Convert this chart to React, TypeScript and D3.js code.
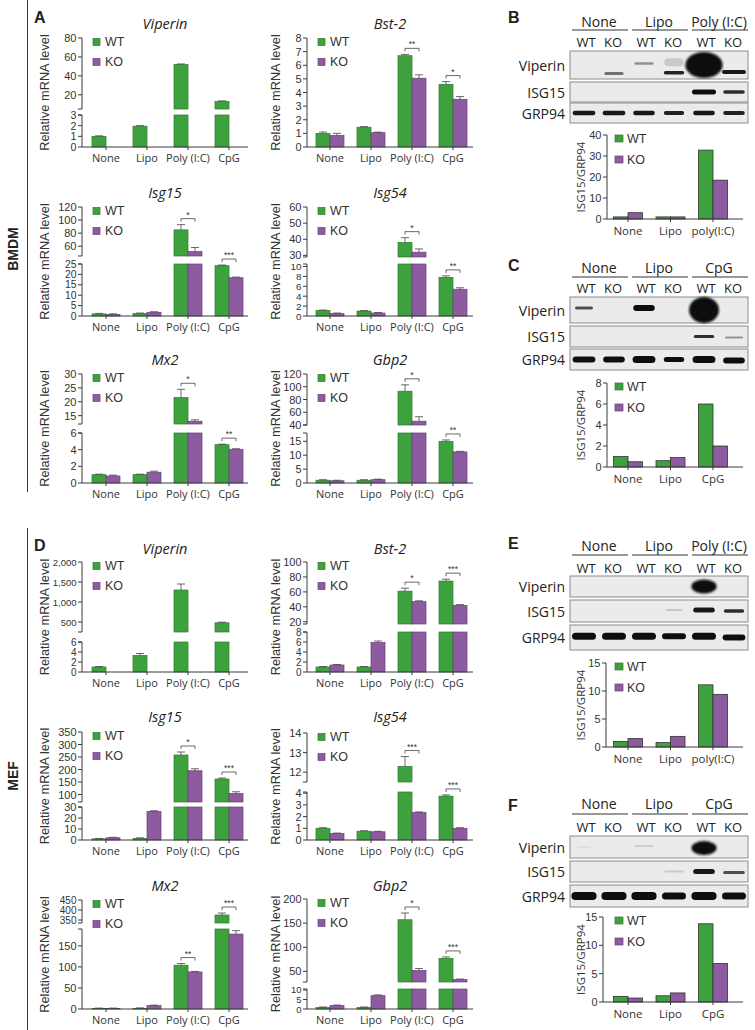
import React from "react";
import * as d3 from "d3";

// ---------------- shared categories ----------------
const categories = ["None", "Lipo", "Poly (I:C)", "CpG"];
const seriesNames = ["WT", "KO"];

// ---------------- Panel A (BMDM) ----------------
const aViperinWT = [1.0, 1.95, 52, 13];
const aViperinWTErr = [0.04, 0.05, 0.6, 0.6];
const aViperinKO = [0, 0, 0, 0];
const aViperinKOErr = [0, 0, 0, 0];
const aViperinSig = ["", "", "", ""];
const aViperinTicksLow = [0, 1, 2, 3];
const aViperinTicksHigh = [20, 40, 60, 80];

const aBst2WT = [1.0, 1.45, 6.7, 4.6];
const aBst2WTErr = [0.1, 0.05, 0.1, 0.2];
const aBst2KO = [0.85, 1.05, 5.05, 3.5];
const aBst2KOErr = [0.15, 0.04, 0.25, 0.2];
const aBst2Sig = ["", "", "**", "*"];
const aBst2Ticks = [0, 1, 2, 3, 4, 5, 6, 7, 8];

const aIsg15WT = [1.0, 1.2, 85, 24.2];
const aIsg15WTErr = [0.1, 0.1, 8, 0.3];
const aIsg15KO = [0.8, 1.8, 52, 18.4];
const aIsg15KOErr = [0.1, 0.1, 6, 0.3];
const aIsg15Sig = ["", "", "*", "***"];
const aIsg15TicksLow = [0, 5, 10, 15, 20, 25];
const aIsg15TicksHigh = [60, 80, 100, 120];

const aIsg54WT = [1.1, 1.0, 38, 7.8];
const aIsg54WTErr = [0.1, 0.1, 3, 0.3];
const aIsg54KO = [0.5, 0.6, 32, 5.4];
const aIsg54KOErr = [0.05, 0.05, 2, 0.3];
const aIsg54Sig = ["", "", "*", "**"];
const aIsg54TicksLow = [0, 2, 4, 6, 8, 10];
const aIsg54TicksHigh = [30, 40, 50, 60];

const aMx2WT = [1.0, 1.0, 21.5, 4.6];
const aMx2WTErr = [0.05, 0.05, 3, 0.05];
const aMx2KO = [0.85, 1.3, 13, 4.05];
const aMx2KOErr = [0.1, 0.12, 0.5, 0.05];
const aMx2Sig = ["", "", "*", "**"];
const aMx2TicksLow = [0, 2, 4, 6];
const aMx2TicksHigh = [15, 20, 25, 30];

const aGbp2WT = [1.0, 1.0, 93, 15];
const aGbp2WTErr = [0.1, 0.1, 10, 0.5];
const aGbp2KO = [0.8, 1.2, 46, 11.2];
const aGbp2KOErr = [0.1, 0.1, 7, 0.2];
const aGbp2Sig = ["", "", "*", "**"];
const aGbp2TicksLow = [0, 5, 10, 15];
const aGbp2TicksHigh = [40, 60, 80, 100, 120];

// ---------------- Panel D (MEF) ----------------
const dViperinWT = [1.0, 3.3, 1300, 480];
const dViperinWTErr = [0.05, 0.4, 150, 15];
const dViperinKO = [0, 0, 0, 0];
const dViperinKOErr = [0, 0, 0, 0];
const dViperinSig = ["", "", "", ""];
const dViperinTicksLow = [0, 2, 4, 6];
const dViperinTicksHigh = [500, 1000, 1500, 2000];

const dBst2WT = [1.0, 1.0, 61, 74.5];
const dBst2WTErr = [0.05, 0.1, 4, 2.5];
const dBst2KO = [1.4, 5.9, 47, 42];
const dBst2KOErr = [0.05, 0.3, 1, 1];
const dBst2Sig = ["", "", "*", "***"];
const dBst2TicksLow = [0, 2, 4, 6, 8];
const dBst2TicksHigh = [20, 40, 60, 80, 100];

const dIsg15WT = [1.0, 1.5, 258, 162];
const dIsg15WTErr = [0.1, 0.2, 12, 4];
const dIsg15KO = [2.0, 26, 195, 104];
const dIsg15KOErr = [0.1, 0.6, 8, 7];
const dIsg15Sig = ["", "", "*", "***"];
const dIsg15TicksLow = [0, 10, 20, 30];
const dIsg15TicksHigh = [100, 150, 200, 250, 300, 350];

const dIsg54WT = [1.0, 0.75, 12.3, 3.75];
const dIsg54WTErr = [0.05, 0.03, 0.5, 0.1];
const dIsg54KO = [0.55, 0.7, 2.35, 1.0];
const dIsg54KOErr = [0.03, 0.03, 0.05, 0.05];
const dIsg54Sig = ["", "", "***", "***"];
const dIsg54TicksLow = [0, 1, 2, 3, 4];
const dIsg54TicksHigh = [12, 13, 14];

const dMx2WT = [1.0, 1.5, 104, 375];
const dMx2WTErr = [0.1, 0.1, 4, 10];
const dMx2KO = [1.0, 8, 88, 178];
const dMx2KOErr = [0.1, 0.5, 1, 8];
const dMx2Sig = ["", "", "**", "***"];
const dMx2TicksLow = [0, 50, 100, 150];
const dMx2TicksHigh = [350, 400, 450];

const dGbp2WT = [0.8, 0.8, 157, 77];
const dGbp2WTErr = [0.05, 0.05, 14, 3];
const dGbp2KO = [1.8, 7.0, 52, 33];
const dGbp2KOErr = [0.1, 0.4, 4, 1];
const dGbp2Sig = ["", "", "*", "***"];
const dGbp2TicksLow = [0, 5, 10];
const dGbp2TicksHigh = [50, 100, 150, 200];

// ---------------- Western blot panels ----------------
const blotRowNames = ["Viperin", "ISG15", "GRP94"];
const laneLabels = ["WT", "KO", "WT", "KO", "WT", "KO"];
const polyGroups = ["None", "Lipo", "Poly (I:C)"];
const cpgGroups = ["None", "Lipo", "CpG"];
const polyCats = ["None", "Lipo", "poly(I:C)"];
const cpgCats = ["None", "Lipo", "CpG"];

const bWT = [1.0, 1.0, 32.8];
const bKO = [3.0, 1.0, 18.5];
const bTicks = [0, 10, 20, 30, 40];
const cWT = [1.0, 0.6, 6.0];
const cKO = [0.5, 0.9, 2.0];
const cTicks = [0, 2, 4, 6, 8];
const eWT = [1.0, 0.8, 11.1];
const eKO = [1.5, 1.9, 9.4];
const eTicks = [0, 5, 10, 15];
const fWT = [1.0, 1.1, 13.8];
const fKO = [0.7, 1.6, 6.8];
const fTicks = [0, 5, 10, 15];

// band: [row, lane, intensity(>1 = saturated blob), widthFactor, heightPx, yFraction]
const bBands = [
  [0, 1, 0.55, 0.8, 3, 0.8], [0, 2, 0.4, 0.8, 2.5, 0.45], [0, 3, 0.15, 0.8, 8, 0.4],
  [0, 3, 0.9, 0.85, 3.5, 0.78], [0, 4, 2, 1.55, 26, 0.5], [0, 5, 0.95, 1.0, 4, 0.75],
  [1, 4, 1, 1.0, 5, 0.5], [1, 5, 0.85, 0.9, 3.5, 0.5],
  [2, 0, 0.95, 0.95, 4.5, 0.5], [2, 1, 0.95, 0.95, 4.5, 0.5], [2, 2, 0.95, 0.9, 4.5, 0.5],
  [2, 3, 0.9, 0.85, 4, 0.5], [2, 4, 0.95, 0.9, 4.5, 0.5], [2, 5, 0.9, 0.9, 4, 0.5],
];
const cBands = [
  [0, 0, 0.7, 0.75, 3, 0.42], [0, 2, 1, 0.9, 6, 0.42], [0, 4, 2, 1.25, 26, 0.5],
  [1, 4, 0.85, 0.85, 3, 0.5], [1, 5, 0.4, 0.75, 2, 0.55],
  [2, 0, 1, 0.95, 6, 0.5], [2, 1, 1, 0.9, 6, 0.5], [2, 2, 1, 0.95, 7, 0.5],
  [2, 3, 1, 0.85, 5, 0.5], [2, 4, 1, 0.95, 7, 0.5], [2, 5, 1, 0.9, 6, 0.55],
];
const eBands = [
  [0, 4, 2, 1.05, 14, 0.5],
  [1, 3, 0.15, 0.7, 2, 0.45], [1, 4, 0.95, 0.9, 5, 0.45], [1, 5, 0.85, 0.85, 3.5, 0.5],
  [2, 0, 1, 1.0, 7, 0.45], [2, 1, 1, 1.0, 7, 0.45], [2, 2, 1, 1.0, 7, 0.45],
  [2, 3, 1, 1.0, 6, 0.45], [2, 4, 1, 1.0, 7, 0.45], [2, 5, 1, 0.95, 6, 0.5],
];
const fBands = [
  [0, 0, 0.06, 0.6, 2, 0.5], [0, 2, 0.12, 0.8, 2, 0.45], [0, 4, 2, 1.05, 14, 0.55],
  [1, 3, 0.15, 0.8, 2, 0.5], [1, 4, 0.95, 0.9, 5, 0.5], [1, 5, 0.7, 0.9, 3, 0.55],
  [2, 0, 1, 1.05, 8, 0.5], [2, 1, 1, 1.05, 8, 0.5], [2, 2, 1, 1.05, 8, 0.5],
  [2, 3, 1, 1.0, 7, 0.5], [2, 4, 1, 1.05, 8, 0.5], [2, 5, 1, 1.0, 7, 0.5],
];

// ---------------- styling ----------------
const WT_FILL = "#3da23d";
const WT_STROKE = "#2c7a2c";
const KO_FILL = "#8d5b9f";
const KO_STROKE = "#68407a";
const AX = "#3a3a3a";
const SANS = "'Liberation Sans', Arial, sans-serif";
const OPEN = "'Open Sans', 'Noto Sans', sans-serif";

type Seg = { d: [number, number]; r: [number, number]; ticks: number[] };
type Gene = {
  title: string; col: number; B: number; segs: Seg[];
  wt: number[]; wtErr: number[]; ko: number[]; koErr: number[]; sig: string[];
};

const COLS = [
  { x0: 82, xEnd: 248, c0: 106, c3: 229, labelX: 44 },
  { x0: 307, xEnd: 473, c0: 330, c3: 453, labelX: 275 },
];

const genes: Gene[] = [
  { title: "Viperin", col: 0, B: 147, wt: aViperinWT, wtErr: aViperinWTErr, ko: aViperinKO, koErr: aViperinKOErr, sig: aViperinSig,
    segs: [{ d: [0, 3], r: [147, 115], ticks: aViperinTicksLow }, { d: [5, 80], r: [109, 38], ticks: aViperinTicksHigh }] },
  { title: "Bst-2", col: 1, B: 147, wt: aBst2WT, wtErr: aBst2WTErr, ko: aBst2KO, koErr: aBst2KOErr, sig: aBst2Sig,
    segs: [{ d: [0, 8], r: [147, 38], ticks: aBst2Ticks }] },
  { title: "Isg15", col: 0, B: 316, wt: aIsg15WT, wtErr: aIsg15WTErr, ko: aIsg15KO, koErr: aIsg15KOErr, sig: aIsg15Sig,
    segs: [{ d: [0, 25], r: [316, 264], ticks: aIsg15TicksLow }, { d: [45, 120], r: [256, 207], ticks: aIsg15TicksHigh }] },
  { title: "Isg54", col: 1, B: 316, wt: aIsg54WT, wtErr: aIsg54WTErr, ko: aIsg54KO, koErr: aIsg54KOErr, sig: aIsg54Sig,
    segs: [{ d: [0, 10.5], r: [316, 264], ticks: aIsg54TicksLow }, { d: [29, 60], r: [257, 207], ticks: aIsg54TicksHigh }] },
  { title: "Mx2", col: 0, B: 483, wt: aMx2WT, wtErr: aMx2WTErr, ko: aMx2KO, koErr: aMx2KOErr, sig: aMx2Sig,
    segs: [{ d: [0, 6], r: [483, 433], ticks: aMx2TicksLow }, { d: [12, 30], r: [424, 374], ticks: aMx2TicksHigh }] },
  { title: "Gbp2", col: 1, B: 483, wt: aGbp2WT, wtErr: aGbp2WTErr, ko: aGbp2KO, koErr: aGbp2KOErr, sig: aGbp2Sig,
    segs: [{ d: [0, 18], r: [483, 433], ticks: aGbp2TicksLow }, { d: [40, 120], r: [425, 374], ticks: aGbp2TicksHigh }] },

  { title: "Viperin", col: 0, B: 672, wt: dViperinWT, wtErr: dViperinWTErr, ko: dViperinKO, koErr: dViperinKOErr, sig: dViperinSig,
    segs: [{ d: [0, 6], r: [672, 642], ticks: dViperinTicksLow }, { d: [250, 2000], r: [632, 562], ticks: dViperinTicksHigh }] },
  { title: "Bst-2", col: 1, B: 672, wt: dBst2WT, wtErr: dBst2WTErr, ko: dBst2KO, koErr: dBst2KOErr, sig: dBst2Sig,
    segs: [{ d: [0, 8], r: [672, 632], ticks: dBst2TicksLow }, { d: [17, 100], r: [624, 562], ticks: dBst2TicksHigh }] },
  { title: "Isg15", col: 0, B: 840, wt: dIsg15WT, wtErr: dIsg15WTErr, ko: dIsg15KO, koErr: dIsg15KOErr, sig: dIsg15Sig,
    segs: [{ d: [0, 30], r: [840, 807], ticks: dIsg15TicksLow }, { d: [70, 350], r: [802, 732], ticks: dIsg15TicksHigh }] },
  { title: "Isg54", col: 1, B: 840, wt: dIsg54WT, wtErr: dIsg54WTErr, ko: dIsg54KO, koErr: dIsg54KOErr, sig: dIsg54Sig,
    segs: [{ d: [0, 4.1], r: [840, 792], ticks: dIsg54TicksLow }, { d: [11.5, 14], r: [782, 733], ticks: dIsg54TicksHigh }] },
  { title: "Mx2", col: 0, B: 1009, wt: dMx2WT, wtErr: dMx2WTErr, ko: dMx2KO, koErr: dMx2KOErr, sig: dMx2Sig,
    segs: [{ d: [0, 190], r: [1009, 929], ticks: dMx2TicksLow }, { d: [335, 450], r: [923, 900], ticks: dMx2TicksHigh }] },
  { title: "Gbp2", col: 1, B: 1009, wt: dGbp2WT, wtErr: dGbp2WTErr, ko: dGbp2KO, koErr: dGbp2KOErr, sig: dGbp2Sig,
    segs: [{ d: [0, 10.5], r: [1009, 989], ticks: dGbp2TicksLow }, { d: [28, 200], r: [982, 899], ticks: dGbp2TicksHigh }] },
];

function GeneChart({ g }: { g: Gene }) {
  const col = COLS[g.col];
  const x = d3.scalePoint<string>().domain(categories).range([col.c0, col.c3]);
  const bw = 14;
  const scales = g.segs.map((s) => d3.scaleLinear().domain(s.d).range(s.r));
  const top = g.segs[g.segs.length - 1].r[1];
  const fmt = d3.format(",");
  const yOf = (v: number) => {
    for (let i = 0; i < g.segs.length; i++) {
      const s = g.segs[i];
      const lo = i === 0 ? 0 : s.d[0];
      if (v >= lo && v <= s.d[1]) return scales[i](v);
    }
    for (let i = 1; i < g.segs.length; i++) if (v < g.segs[i].d[0]) return scales[i - 1](g.segs[i - 1].d[1]);
    return scales[g.segs.length - 1](v);
  };
  const series = [
    { vals: g.wt, err: g.wtErr, fill: WT_FILL, stroke: WT_STROKE, off: -bw },
    { vals: g.ko, err: g.koErr, fill: KO_FILL, stroke: KO_STROKE, off: 0 },
  ];
  const els: React.ReactNode[] = [];
  series.forEach((ser, si) =>
    ser.vals.forEach((v, i) => {
      const cx = (x(categories[i]) as number) + ser.off;
      g.segs.forEach((s, k) => {
        const lo = k === 0 ? 0 : s.d[0];
        if (v <= lo) return;
        const hi = Math.min(v, s.d[1]);
        const y1 = scales[k](hi);
        const y0 = scales[k](lo);
        els.push(
          <rect key={`b${si}-${i}-${k}`} x={cx} y={y1} width={bw} height={y0 - y1}
            fill={ser.fill} stroke={ser.stroke} strokeWidth={0.7} />
        );
      });
    })
  );
  const errTops: number[][] = [[], []];
  series.forEach((ser, si) =>
    ser.vals.forEach((v, i) => {
      const c = (x(categories[i]) as number) + ser.off + bw / 2;
      if (v <= 0) { errTops[si][i] = g.B; return; }
      const yv = yOf(v);
      const ye = Math.min(yOf(v + ser.err[i]), yv - 0.5);
      errTops[si][i] = ye;
      els.push(
        <g key={`e${si}-${i}`} stroke="#444" strokeWidth={0.8}>
          <line x1={c} x2={c} y1={yv} y2={ye} />
          <line x1={c - 4} x2={c + 4} y1={ye} y2={ye} />
        </g>
      );
    })
  );
  g.sig.forEach((s, i) => {
    if (!s) return;
    const c = x(categories[i]) as number;
    const yb = Math.min(errTops[0][i], errTops[1][i]) - 6;
    els.push(
      <g key={`s${i}`}>
        <path d={`M${c - 7},${yb + 3}V${yb}H${c + 7}V${yb + 3}`} fill="none" stroke="#444" strokeWidth={0.8} />
        <text x={c} y={yb - 1} fontSize={8.5} textAnchor="middle" fill="#333" fontFamily={SANS}>{s}</text>
      </g>
    );
  });

  const tickFont = (k: number) => {
    const s = g.segs[k];
    const sp = Math.abs(scales[k](s.ticks[1]) - scales[k](s.ticks[0]));
    const long = s.ticks.some((t) => fmt(t).length > 3);
    return Math.max(8.5, Math.min(long ? 9.5 : 11, sp));
  };

  return (
    <g>
      <text x={(col.x0 + col.xEnd) / 2} y={g.B - 124} fontSize={14.5} fontStyle="italic" textAnchor="middle"
        dominantBaseline="central" fontFamily={OPEN} fill="#222">{g.title}</text>
      <text transform={`translate(${col.labelX},${(g.B + top) / 2}) rotate(-90)`} fontSize={12.8}
        textAnchor="middle" dominantBaseline="central" fontFamily={SANS} fill="#333">Relative mRNA level</text>
      {els}
      {g.segs.map((s, k) => (
        <g key={`ax${k}`} stroke={AX} strokeWidth={1}>
          <line x1={col.x0} x2={col.x0} y1={s.r[0]} y2={s.r[1]} />
          {g.segs.length > 1 && k > 0 && <line x1={col.x0 - 4} x2={col.x0} y1={s.r[0]} y2={s.r[0]} />}
          {g.segs.length > 1 && k < g.segs.length - 1 && <line x1={col.x0 - 4} x2={col.x0} y1={s.r[1]} y2={s.r[1]} />}
          {s.ticks.map((t) => (
            <line key={t} x1={col.x0 - 4} x2={col.x0} y1={scales[k](t)} y2={scales[k](t)} />
          ))}
        </g>
      ))}
      {g.segs.map((s, k) =>
        s.ticks.map((t) => (
          <text key={`tl${k}-${t}`} x={col.x0 - 5.5} y={scales[k](t)} fontSize={tickFont(k)} textAnchor="end"
            dominantBaseline="central" fontFamily={SANS} fill="#333">{fmt(t)}</text>
        ))
      )}
      <line x1={col.x0} x2={col.xEnd} y1={g.B} y2={g.B} stroke={AX} strokeWidth={1} />
      {categories.map((c) => (
        <g key={c}>
          <line x1={x(c)} x2={x(c)} y1={g.B} y2={g.B + 3} stroke={AX} strokeWidth={1} />
          <text x={x(c)} y={g.B + 10.5} fontSize={11} textAnchor="middle" dominantBaseline="central"
            fontFamily={OPEN} fill="#333">{c}</text>
        </g>
      ))}
      {seriesNames.map((n, i) => (
        <g key={n}>
          <rect x={col.x0 + 11} y={top + 0.5 + i * 20} width={7} height={7}
            fill={i === 0 ? WT_FILL : KO_FILL} stroke={i === 0 ? WT_STROKE : KO_STROKE} strokeWidth={0.7} />
          <text x={col.x0 + 23} y={top + 4 + i * 20} fontSize={12.5} dominantBaseline="central"
            fontFamily={SANS} fill="#333">{n}</text>
        </g>
      ))}
    </g>
  );
}

type BlotSpec = {
  letter: string; letterY: number; groups: string[]; groupY: number; lineY: number; laneY: number;
  boxes: [number, number][]; bands: number[][]; axisX: number; top: number; base: number;
  domain: [number, number]; ticks: number[]; cats: string[]; wt: number[]; ko: number[];
};

const blots: BlotSpec[] = [
  { letter: "B", letterY: 17, groups: polyGroups, groupY: 21, lineY: 30, laneY: 42,
    boxes: [[51, 79], [82, 102], [103, 123]], bands: bBands, axisX: 607, top: 135, base: 219,
    domain: [0, 40], ticks: bTicks, cats: polyCats, wt: bWT, ko: bKO },
  { letter: "C", letterY: 265, groups: cpgGroups, groupY: 267, lineY: 277, laneY: 288,
    boxes: [[297, 323], [326, 347], [349, 370]], bands: cBands, axisX: 607, top: 383, base: 467,
    domain: [0, 8], ticks: cTicks, cats: cpgCats, wt: cWT, ko: cKO },
  { letter: "E", letterY: 543, groups: polyGroups, groupY: 545, lineY: 555, laneY: 568,
    boxes: [[576, 597], [600, 622], [625, 650]], bands: eBands, axisX: 606, top: 663, base: 747,
    domain: [0, 15], ticks: eTicks, cats: polyCats, wt: eWT, ko: eKO },
  { letter: "F", letterY: 805, groups: cpgGroups, groupY: 803, lineY: 814, laneY: 827,
    boxes: [[836, 858], [861, 882], [885, 907]], bands: fBands, axisX: 603, top: 917, base: 1002,
    domain: [0, 15], ticks: fTicks, cats: cpgCats, wt: fWT, ko: fKO },
];

function BlotPanel({ p }: { p: BlotSpec }) {
  const lane = d3.scalePoint<number>().domain(d3.range(6)).range([584, 734]);
  const boxX0 = 570, boxX1 = 748;
  const y = d3.scaleLinear().domain(p.domain).range([p.base, p.top]);
  const x = d3.scalePoint<string>().domain(p.cats).range([628, 713]);
  const bw = 14.5;
  return (
    <g>
      <text x={508} y={p.letterY} fontSize={16} fontWeight="bold" dominantBaseline="central" fontFamily={SANS} fill="#222">{p.letter}</text>
      {p.groups.map((gname, i) => {
        const l0 = lane(2 * i) as number, l1 = lane(2 * i + 1) as number;
        return (
          <g key={gname}>
            <text x={(l0 + l1) / 2} y={p.groupY} fontSize={14} textAnchor="middle" dominantBaseline="central"
              fontFamily={OPEN} fill="#222">{gname}</text>
            <line x1={l0 - 12} x2={l1 + 14} y1={p.lineY} y2={p.lineY} stroke="#333" strokeWidth={1} />
          </g>
        );
      })}
      {laneLabels.map((l, i) => (
        <text key={i} x={(lane(i) as number) + (i % 2 === 0 ? 2 : -1)} y={p.laneY} fontSize={13} textAnchor="middle"
          dominantBaseline="central" fontFamily={OPEN} fill="#222">{l}</text>
      ))}
      {p.boxes.map((b, r) => (
        <g key={r}>
          <rect x={boxX0} y={b[0]} width={boxX1 - boxX0} height={b[1] - b[0]} fill="#ebebeb" stroke="#8c8c8c" strokeWidth={1} />
          <text x={565} y={(b[0] + b[1]) / 2} fontSize={14} textAnchor="end" dominantBaseline="central"
            fontFamily={OPEN} fill="#222">{blotRowNames[r]}</text>
        </g>
      ))}
      {p.bands.map((bd, i) => {
        const [r, l, a, wf, h, yf] = bd;
        const box = p.boxes[r];
        const cy = box[0] + (box[1] - box[0]) * yf;
        const cx = lane(l) as number;
        const w = 24 * wf;
        if (a > 1) {
          return <ellipse key={i} cx={cx} cy={cy} rx={w / 2} ry={h / 2} fill="#0b0b0b" filter="url(#blobBlur)" />;
        }
        return <rect key={i} x={cx - w / 2} y={cy - h / 2} width={w} height={h} rx={h / 2} fill="#111"
          opacity={a} filter="url(#bandBlur)" />;
      })}
      <text transform={`translate(580,${(p.top + p.base) / 2}) rotate(-90)`} fontSize={11.5} textAnchor="middle"
        dominantBaseline="central" fontFamily={OPEN} fill="#333">ISG15/GRP94</text>
      {p.cats.map((c, i) => (
        <g key={c}>
          <rect x={(x(c) as number) - bw} y={y(p.wt[i])} width={bw} height={p.base - y(p.wt[i])} fill={WT_FILL} stroke="#333" strokeWidth={0.8} />
          <rect x={x(c) as number} y={y(p.ko[i])} width={bw} height={p.base - y(p.ko[i])} fill={KO_FILL} stroke="#333" strokeWidth={0.8} />
          <line x1={x(c)} x2={x(c)} y1={p.base} y2={p.base + 3} stroke={AX} />
          <text x={x(c)} y={p.base + 11} fontSize={11.5} textAnchor="middle" dominantBaseline="central"
            fontFamily={OPEN} fill="#333">{c}</text>
        </g>
      ))}
      <line x1={p.axisX} x2={p.axisX} y1={p.base} y2={p.top} stroke={AX} />
      <line x1={p.axisX} x2={743} y1={p.base} y2={p.base} stroke={AX} />
      {p.ticks.map((t) => (
        <g key={t}>
          <line x1={p.axisX - 4} x2={p.axisX} y1={y(t)} y2={y(t)} stroke={AX} />
          <text x={p.axisX - 5.5} y={y(t)} fontSize={11} textAnchor="end" dominantBaseline="central"
            fontFamily={SANS} fill="#333">{t}</text>
        </g>
      ))}
      {seriesNames.map((n, i) => (
        <g key={n}>
          <rect x={615} y={p.top + i * 21} width={8} height={7} fill={i === 0 ? WT_FILL : KO_FILL} stroke={i === 0 ? WT_STROKE : KO_STROKE} strokeWidth={0.7} />
          <text x={627} y={p.top + 3.5 + i * 21} fontSize={12.5} dominantBaseline="central" fontFamily={SANS} fill="#333">{n}</text>
        </g>
      ))}
    </g>
  );
}

export default function App() {
  return (
    <svg width={755} height={1030} viewBox="0 0 755 1030"
      style={{ position: "absolute", left: 0, top: 0, display: "block", background: "#fff" }}>
      <defs>
        <filter id="bandBlur" x="-30%" y="-100%" width="160%" height="300%">
          <feGaussianBlur stdDeviation="0.7" />
        </filter>
        <filter id="blobBlur" x="-30%" y="-30%" width="160%" height="160%">
          <feGaussianBlur stdDeviation="1" />
        </filter>
      </defs>
      <rect x={0} y={0} width={755} height={1030} fill="#fff" />
      <line x1={27.5} x2={27.5} y1={0} y2={492} stroke="#333" strokeWidth={1} />
      <line x1={27.5} x2={27.5} y1={528} y2={1030} stroke="#333" strokeWidth={1} />
      <text transform="translate(13,249) rotate(-90)" fontSize={14} fontWeight="bold" textAnchor="middle"
        dominantBaseline="central" fontFamily={SANS} fill="#222">BMDM</text>
      <text transform="translate(13,776) rotate(-90)" fontSize={14} fontWeight="bold" textAnchor="middle"
        dominantBaseline="central" fontFamily={SANS} fill="#222">MEF</text>
      <text x={34} y={17} fontSize={16} fontWeight="bold" dominantBaseline="central" fontFamily={SANS} fill="#222">A</text>
      <text x={34} y={545} fontSize={16} fontWeight="bold" dominantBaseline="central" fontFamily={SANS} fill="#222">D</text>
      {genes.map((g, i) => <GeneChart key={i} g={g} />)}
      {blots.map((p) => <BlotPanel key={p.letter} p={p} />)}
    </svg>
  );
}
